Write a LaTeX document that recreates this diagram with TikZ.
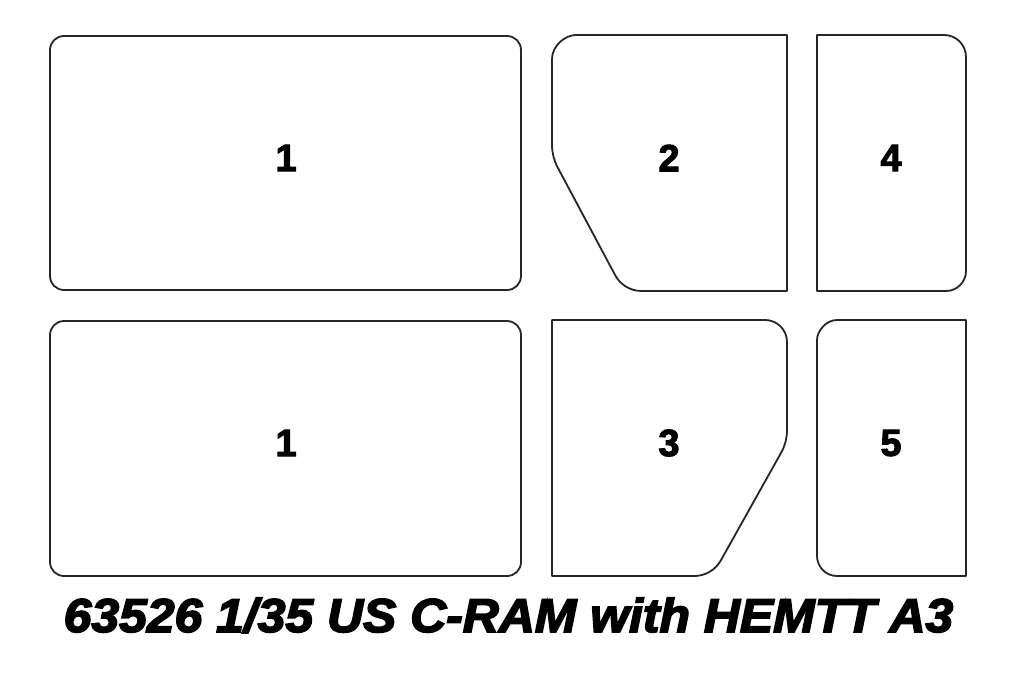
\documentclass[tikz,border=0pt]{standalone}
\usepackage{fontspec}
\setmainfont{Liberation Sans}
\usetikzlibrary{calc}
\newcommand\heavy[2]{\special{pdf:literal 2 Tr #1 w}#2\special{pdf:literal 0 Tr}}
\tikzset{
  part/.style={draw=black!85, line width=1.8pt, line join=round},
  lbl/.style={inner sep=0pt, font=\bfseries\fontsize{38}{38}\selectfont},
  ttl/.style={inner sep=0pt, anchor=base, font=\bfseries\itshape\fontsize{47.5}{48}\selectfont}
}
\begin{document}
\begin{tikzpicture}[x=1pt,y=-1pt]
\useasboundingbox[fill=white] (0,0) rectangle (1024,688);
% part 1 (top and bottom)
\draw[part, rounded corners=14pt] (50,36) rectangle (521,290);
\draw[part, rounded corners=14pt] (50,321) rectangle (521,576);
% part 2
\draw[part] (552,144.7) -- (552,59) .. controls (552,45.7) and (565.3,35) .. (576,35)
  -- (787,35) -- (787,291) -- (641.6,291)
  .. controls ($(641.6,291)!0.62!(623.6,291)$) and ($(615.1,275.1)!0.62!(623.6,291)$) .. (615.1,275.1)
  -- (557.6,167.3)
  .. controls ($(557.6,167.3)!0.66!(552,156.7)$) and ($(552,144.7)!0.66!(552,156.7)$) .. (552,144.7) -- cycle;
% part 3
\draw[part] (552,320) -- (765,320) .. controls (777.2,320) and (787,329.8) .. (787,342)
  -- (787,430.2)
  .. controls ($(787,430.2)!0.66!(787,442.2)$) and ($(781.1,452.7)!0.66!(787,442.2)$) .. (781.1,452.7)
  -- (720.9,560.3)
  .. controls ($(720.9,560.3)!0.62!(712.1,576)$) and ($(694.1,576)!0.62!(712.1,576)$) .. (694.1,576)
  -- (552,576) -- cycle;
% part 4
\draw[part] (817,35) -- (944,35) .. controls (956.2,35) and (966,44.8) .. (966,57)
  -- (966,271) .. controls (966,282) and (957,291) .. (946,291) -- (817,291) -- cycle;
% part 5
\draw[part] (966,320) -- (837,320) .. controls (826,320) and (817,331) .. (817,340)
  -- (817,556) .. controls (817,567) and (826,576) .. (837,576) -- (966,576) -- cycle;
% labels
\node[lbl] (l1a) at (286,158) {\heavy{1}{1}};
\node[lbl] (l2) at (669,158) {\heavy{1}{2}};
\node[lbl] (l4) at (891,158) {\heavy{1}{4}};
\node[lbl] (l1b) at (286,443) {\heavy{1}{1}};
\node[lbl] (l3) at (669,443) {\heavy{1}{3}};
\node[lbl] (l5) at (891,443) {\heavy{1}{5}};
\node[ttl] (title) at (508.5,632) {\scalebox{1.05}[1]{\heavy{1.6}{63526 1/35 US C-RAM with HEMTT A3}}};
\end{tikzpicture}
\end{document}
